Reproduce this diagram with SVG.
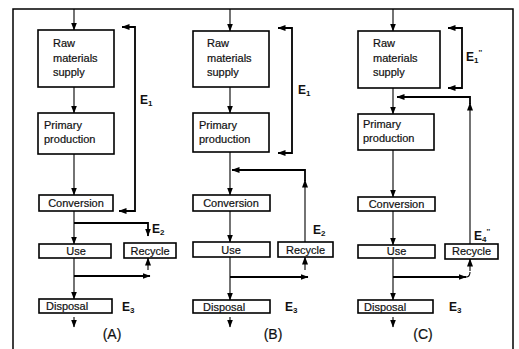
<svg xmlns="http://www.w3.org/2000/svg" width="519" height="349" viewBox="0 0 519 349">
<defs>
<marker id="ah" markerUnits="userSpaceOnUse" markerWidth="8" markerHeight="6" refX="7.5" refY="3" orient="auto-start-reverse">
<path d="M0,0 L8,3 L0,6 z" fill="#000"/>
</marker>
<style>
.box{fill:#fff;stroke:#000;stroke-width:1.6}
.ln{fill:none;stroke:#000;stroke-width:1.1}
.th{fill:none;stroke:#000;stroke-width:1.8}
.ar{marker-end:url(#ah)}
.ar2{marker-start:url(#ah);marker-end:url(#ah)}
text{font-family:"Liberation Sans",Arial,sans-serif;font-size:11px;fill:#111;stroke:#111;stroke-width:0.2}
.c{text-anchor:middle}
.lab{font-size:14px;text-anchor:middle}
.e{font-size:12px;font-weight:bold;stroke:none}
.sub{font-size:8px}
</style>
</defs>
<rect width="519" height="349" fill="#fff"/>
<path d="M13,349 V9 H513 V349" fill="none" stroke="#000" stroke-width="1.5"/>

<g id="connectors">
<!-- A -->
<path class="ln ar" d="M74,9 V30"/>
<path class="ln ar" d="M74,87 V113"/>
<path class="ln ar" d="M74,154 V195"/>
<path class="ln ar" d="M74,211 V244"/>
<path class="ln ar" d="M74,258 V299"/>
<path class="ln ar" d="M74,317 V327"/>
<path class="th ar2" d="M122,27 H135 V211 H119"/>
<path class="th ar" d="M74,223 H148 V236"/>
<path class="th ar" d="M74,276 H150"/>
<path class="ln ar" d="M148,270 V258"/>
<!-- B -->
<path class="ln ar" d="M230,9 V31"/>
<path class="ln ar" d="M230,87 V113"/>
<path class="ln ar" d="M230,152 V195"/>
<path class="ln ar" d="M230,211 V242"/>
<path class="ln ar" d="M230,257 V300"/>
<path class="ln ar" d="M230,317 V327"/>
<path class="th ar2" d="M278,28 H292 V153 H278"/>
<path class="ln ar" d="M305,242 V180"/>
<path class="th ar" d="M305,181 V170 H232"/>
<path class="th ar" d="M230,277 H308"/>
<path class="ln ar" d="M305,270 V257"/>
<!-- C -->
<path class="ln ar" d="M393,9 V31"/>
<path class="ln ar" d="M393,88 V114"/>
<path class="ln ar" d="M393,150 V197"/>
<path class="ln ar" d="M393,211 V245"/>
<path class="ln ar" d="M393,258 V300"/>
<path class="ln ar" d="M393,317 V327"/>
<path class="th ar2" d="M448,28 H462 V88 H448"/>
<path class="ln ar" d="M470,244 V103"/>
<path class="th ar" d="M470,104 V97 H397"/>
<path class="th ar" d="M393,277 H466"/>
<path class="ln" d="M466,277 Q470,277 470,272"/>
<path class="ln ar" d="M470,271 V259"/>
</g>

<g id="A-raw"><rect class="box" x="38" y="30" width="76" height="57"/><text x="53" y="47">Raw</text><text x="53" y="62">materials</text><text x="53" y="76">supply</text></g>
<g id="A-primary"><rect class="box" x="38" y="113" width="76" height="41"/><text x="44" y="129">Primary</text><text x="44" y="143">production</text></g>
<g id="A-conversion"><rect class="box" x="39" y="195" width="74" height="16"/><text class="c" x="76" y="207">Conversion</text></g>
<g id="A-use"><rect class="box" x="39" y="244" width="72" height="14"/><text class="c" x="76" y="255">Use</text></g>
<g id="A-recycle"><rect class="box" x="124" y="243" width="52" height="15"/><text class="c" x="150" y="255">Recycle</text></g>
<g id="A-disposal"><rect class="box" x="39" y="299" width="73" height="14"/><text x="46" y="310">Disposal</text></g>
<g id="A-labels">
<text class="e" x="140" y="104">E<tspan class="sub" dy="2">1</tspan></text>
<text class="e" x="152" y="233">E<tspan class="sub" dy="2">2</tspan></text>
<text class="e" x="122" y="311">E<tspan class="sub" dy="2">3</tspan></text>
<text class="lab" x="112" y="339">(A)</text>
</g>

<g id="B-raw"><rect class="box" x="193" y="31" width="76" height="56"/><text x="207" y="47">Raw</text><text x="207" y="62">materials</text><text x="207" y="76">supply</text></g>
<g id="B-primary"><rect class="box" x="193" y="113" width="76" height="39"/><text x="199" y="129">Primary</text><text x="199" y="143">production</text></g>
<g id="B-conversion"><rect class="box" x="193" y="195" width="77" height="16"/><text class="c" x="231" y="207">Conversion</text></g>
<g id="B-use"><rect class="box" x="193" y="242" width="77" height="15"/><text class="c" x="231" y="254">Use</text></g>
<g id="B-recycle"><rect class="box" x="278" y="242" width="55" height="15"/><text class="c" x="305.5" y="254">Recycle</text></g>
<g id="B-disposal"><rect class="box" x="193" y="300" width="77" height="13"/><text x="203" y="311">Disposal</text></g>
<g id="B-labels">
<text class="e" x="298" y="94">E<tspan class="sub" dy="2">1</tspan></text>
<text class="e" x="313" y="234">E<tspan class="sub" dy="2">2</tspan></text>
<text class="e" x="285" y="311">E<tspan class="sub" dy="2">3</tspan></text>
<text class="lab" x="273" y="339">(B)</text>
</g>

<g id="C-raw"><rect class="box" x="358" y="31" width="82" height="57"/><text x="373" y="47">Raw</text><text x="373" y="62">materials</text><text x="373" y="76">supply</text></g>
<g id="C-primary"><rect class="box" x="358" y="114" width="76" height="36"/><text x="363" y="128">Primary</text><text x="363" y="142">production</text></g>
<g id="C-conversion"><rect class="box" x="358" y="197" width="77" height="14"/><text class="c" x="396.5" y="208">Conversion</text></g>
<g id="C-use"><rect class="box" x="358" y="245" width="77" height="13"/><text class="c" x="396.5" y="255">Use</text></g>
<g id="C-recycle"><rect class="box" x="445" y="244" width="53" height="15"/><text class="c" x="471.5" y="255">Recycle</text></g>
<g id="C-disposal"><rect class="box" x="358" y="300" width="75" height="13"/><text x="364" y="311">Disposal</text></g>
<g id="C-labels">
<text class="e" x="466" y="61">E<tspan class="sub" dy="2">1</tspan><tspan class="sub" dy="-8">''</tspan></text>
<text class="e" x="474" y="240">E<tspan class="sub" dy="2">4</tspan><tspan class="sub" dy="-8">''</tspan></text>
<text class="e" x="449" y="311">E<tspan class="sub" dy="2">3</tspan></text>
<text class="lab" x="423" y="339">(C)</text>
</g>
</svg>
